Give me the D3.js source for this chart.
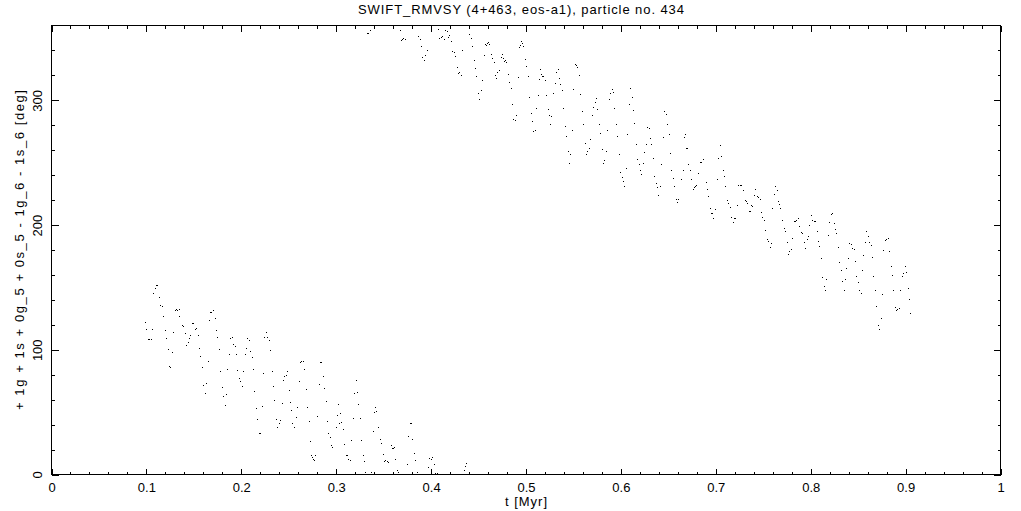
<!DOCTYPE html>
<html>
<head>
<meta charset="utf-8">
<script src="https://cdn.jsdelivr.net/npm/d3@7"></script>
<style>
  html, body { margin: 0; padding: 0; background: #fff; }
  svg { display: block; }
  text { font-family: "Liberation Sans", Arial, sans-serif; fill: #000; }
</style>
</head>
<body>
<svg id="chart" width="1021" height="511"></svg>
<script>
// ---------------- data ----------------
const chartTitle = "SWIFT_RMVSY (4+463, eos-a1), particle no. 434";
const xAxisLabel = "t [Myr]";
const yAxisLabel = "+ 1g + 1s + 0g_5 + 0s_5 - 1g_6 - 1s_6 [deg]";

const xMajorTicks = [0, 0.1, 0.2, 0.3, 0.4, 0.5, 0.6, 0.7, 0.8, 0.9, 1];
const xTickLabels = ["0", "0.1", "0.2", "0.3", "0.4", "0.5", "0.6", "0.7", "0.8", "0.9", "1"];
const yMajorTicks = [0, 100, 200, 300];
const yTickLabels = ["0", "100", "200", "300"];

// branch below the 0/360 wrap (t in Myr, angle in deg)
const tLower = [
0.0994,0.1004,0.1029,0.1040,0.1054,0.1068,0.1078,0.1096,0.1110,0.1127,0.1142,0.1159,0.1170,0.1184,0.1205,0.1215,0.1236,0.1247,0.1264,0.1279,
0.1289,0.1310,0.1321,0.1338,0.1349,0.1359,0.1384,0.1395,0.1416,0.1426,0.1447,0.1458,0.1468,0.1489,0.1500,0.1521,0.1532,0.1553,0.1563,0.1574,
0.1595,0.1605,0.1626,0.1637,0.1658,0.1668,0.1679,0.1690,0.1711,0.1732,0.1742,0.1753,0.1774,0.1784,0.1805,0.1816,0.1837,0.1848,0.1858,0.1879,
0.1890,0.1911,0.1921,0.1942,0.1953,0.1963,0.1984,0.1995,0.2016,0.2026,0.2047,0.2058,0.2068,0.2090,0.2100,0.2121,0.2132,0.2142,0.2163,0.2174,
0.2195,0.2206,0.2227,0.2237,0.2248,0.2269,0.2279,0.2300,0.2311,0.2332,0.2342,0.2353,0.2374,0.2385,0.2406,0.2416,0.2437,0.2448,0.2458,0.2479,
0.2490,0.2511,0.2522,0.2532,0.2550,0.2564,0.2585,0.2596,0.2617,0.2627,0.2638,0.2659,0.2669,0.2690,0.2701,0.2722,0.2733,0.2743,0.2754,0.2764,
0.2775,0.2785,0.2806,0.2827,0.2838,0.2848,0.2869,0.2880,0.2901,0.2912,0.2922,0.2943,0.2954,0.2964,0.3006,0.3017,0.3027,0.3038,0.3048,0.3059,
0.3080,0.3091,0.3112,0.3122,0.3133,0.3154,0.3164,0.3185,0.3196,0.3217,0.3228,0.3238,0.3259,0.3270,0.3291,0.3301,0.3312,0.3375,0.3396,0.3407,
0.3417,0.3428,0.3449,0.3470,0.3480,0.3502,0.3512,0.3523,0.3544,0.3554,0.3586,0.3596,0.3607,0.3617,0.3628,0.3649,0.3660,0.3754,0.3765,0.3786,
0.3797,0.3807,0.3828,0.3839,0.3860,0.3976,0.3986,0.4007,0.4018,0.4039,0.4050,0.4071,0.4355,0.4366,0.4376
];
const phiLower = [
121.6,116.0,108.0,107.5,108.0,116.0,144.9,148.9,150.8,150.8,141.7,135.3,133.9,126.4,115.2,108.8,100.0,86.1,85.6,97.6,
113.6,131.2,132.0,130.7,132.0,126.4,119.2,118.4,112.8,103.2,105.6,108.8,111.2,120.8,120.8,116.0,116.8,111.2,100.8,94.3,
85.6,71.1,64.7,72.7,90.3,123.2,129.6,129.6,131.2,124.8,115.2,109.6,100.0,82.3,69.5,62.3,55.0,63.9,83.9,96.0,
108.8,109.6,104.0,102.4,96.0,83.1,76.7,74.3,70.3,82.3,96.0,100.8,108.8,107.2,98.4,93.5,83.9,66.3,52.6,43.8,
32.6,32.6,54.2,80.7,109.6,113.6,109.6,107.2,99.2,82.3,70.3,59.1,43.8,37.4,40.6,43.0,56.6,75.1,78.3,79.1,
82.3,67.1,57.5,51.1,40.6,37.4,45.5,53.5,74.3,89.5,90.3,90.3,83.9,67.9,53.5,42.2,26.2,15.0,13.4,11.8,
11.0,15.0,46.3,71.9,89.5,89.5,78.3,68.7,58.3,42.2,32.6,29.4,23.0,21.4,37.4,47.1,55.9,40.6,48.7,41.4,
35.8,23.8,15.0,15.0,11.8,11.0,27.0,44.7,64.7,75.1,65.5,55.9,44.7,27.0,15.0,10.2,1.3,1.3,34.2,49.5,
53.5,50.3,37.4,27.8,24.6,15.8,10.2,11.0,10.2,9.4,23.0,20.6,20.6,21.4,11.8,2.9,1.3,7.8,30.2,40.6,
40.6,27.8,16.6,11.0,1.3,5.3,12.6,11.8,13.4,7.8,0.5,0.5,2.9,6.1,8.6
];

// branch above the wrap
const tUpper = [
0.3333,0.3344,0.3365,0.3681,0.3691,0.3702,0.3712,0.3733,0.3871,0.3892,0.3902,0.3913,0.3934,0.3944,0.3965,0.4081,0.4092,0.4113,0.4123,0.4144,
0.4155,0.4176,0.4187,0.4197,0.4218,0.4229,0.4250,0.4260,0.4281,0.4292,0.4302,0.4324,0.4334,0.4408,0.4429,0.4439,0.4461,0.4471,0.4482,0.4503,
0.4513,0.4534,0.4545,0.4566,0.4576,0.4587,0.4597,0.4608,0.4619,0.4640,0.4650,0.4671,0.4682,0.4692,0.4703,0.4724,0.4745,0.4756,0.4766,0.4777,
0.4787,0.4798,0.4819,0.4829,0.4850,0.4861,0.4871,0.4893,0.4903,0.4924,0.4935,0.4945,0.4956,0.4966,0.4977,0.4998,0.5008,0.5029,0.5040,0.5061,
0.5072,0.5082,0.5103,0.5114,0.5135,0.5145,0.5156,0.5166,0.5177,0.5188,0.5209,0.5219,0.5240,0.5251,0.5261,0.5272,0.5293,0.5314,0.5325,0.5346,
0.5356,0.5367,0.5388,0.5398,0.5419,0.5430,0.5451,0.5462,0.5472,0.5493,0.5504,0.5525,0.5535,0.5546,0.5567,0.5577,0.5599,0.5609,0.5630,0.5641,
0.5651,0.5672,0.5683,0.5704,0.5714,0.5736,0.5746,0.5757,0.5778,0.5788,0.5809,0.5820,0.5830,0.5851,0.5862,0.5883,0.5894,0.5915,0.5925,0.5936,
0.5957,0.5967,0.5988,0.5999,0.6020,0.6031,0.6041,0.6062,0.6073,0.6094,0.6104,0.6125,0.6136,0.6146,0.6167,0.6178,0.6199,0.6210,0.6220,0.6241,
0.6252,0.6273,0.6283,0.6304,0.6315,0.6326,0.6347,0.6357,0.6378,0.6389,0.6399,0.6420,0.6431,0.6452,0.6463,0.6484,0.6494,0.6515,0.6526,0.6536,
0.6557,0.6568,0.6589,0.6600,0.6610,0.6642,0.6663,0.6673,0.6684,0.6695,0.6705,0.6716,0.6737,0.6747,0.6768,0.6779,0.6789,0.6800,0.6821,0.6842,
0.6853,0.6874,0.6905,0.6916,0.6926,0.6947,0.6958,0.6968,0.6979,0.7000,0.7021,0.7032,0.7053,0.7063,0.7084,0.7095,0.7105,0.7126,0.7137,0.7158,
0.7169,0.7190,0.7200,0.7211,0.7232,0.7242,0.7263,0.7274,0.7295,0.7316,0.7327,0.7337,0.7358,0.7369,0.7379,0.7390,0.7411,0.7421,0.7442,0.7453,
0.7474,0.7485,0.7495,0.7516,0.7527,0.7548,0.7558,0.7580,0.7590,0.7601,0.7622,0.7632,0.7653,0.7664,0.7674,0.7685,0.7706,0.7727,0.7738,0.7759,
0.7769,0.7780,0.7801,0.7811,0.7832,0.7843,0.7854,0.7875,0.7885,0.7906,0.7917,0.7938,0.7948,0.7969,0.7980,0.7990,0.8011,0.8022,0.8043,0.8054,
0.8075,0.8085,0.8096,0.8117,0.8127,0.8149,0.8159,0.8170,0.8191,0.8201,0.8222,0.8233,0.8254,0.8264,0.8275,0.8296,0.8307,0.8328,0.8338,0.8359,
0.8370,0.8380,0.8401,0.8412,0.8433,0.8444,0.8465,0.8475,0.8486,0.8507,0.8517,0.8538,0.8549,0.8560,0.8581,0.8591,0.8612,0.8623,0.8644,0.8654,
0.8665,0.8686,0.8697,0.8718,0.8728,0.8749,0.8760,0.8770,0.8791,0.8802,0.8823,0.8833,0.8855,0.8865,0.8876,0.8897,0.8907,0.8918,0.8939,0.8949,
0.8971,0.8981,0.9002,0.9013,0.9034,0.9044,0.9055
];
const phiUpper = [
353.5,353.5,355.9,355.9,347.9,348.7,349.5,348.7,351.1,348.7,343.0,334.2,331.8,335.8,339.8,356.7,349.5,350.3,351.1,348.7,
355.9,355.1,350.3,351.9,347.1,339.0,338.2,335.0,326.2,321.4,322.2,319.8,339.8,352.7,349.5,343.0,331.8,325.4,319.0,305.3,
300.5,307.7,315.8,335.8,344.6,343.8,345.4,346.2,344.6,336.6,333.4,330.2,319.8,317.4,322.2,323.8,334.2,336.6,333.4,331.0,
331.8,330.2,320.6,314.2,309.4,296.5,284.5,283.7,287.7,318.2,342.2,343.8,347.1,345.4,343.0,332.6,327.0,319.0,302.1,289.3,
282.9,274.9,275.7,293.3,303.7,316.6,324.6,320.6,319.0,319.0,315.8,303.7,292.5,287.7,280.5,286.9,305.3,313.4,322.2,324.6,
317.4,312.6,307.7,293.3,278.9,270.8,258.8,249.2,256.4,275.7,308.5,328.6,327.3,326.2,319.8,304.5,290.9,280.5,265.2,256.4,
258.8,261.2,268.4,287.7,294.1,297.9,301.3,292.5,280.5,273.3,260.4,249.2,251.6,258.8,275.7,300.5,305.3,308.5,306.1,293.3,
280.5,270.9,256.4,242.0,238.0,234.8,230.7,245.2,272.5,296.5,309.4,302.1,291.7,281.3,264.4,252.4,248.4,243.6,240.4,249.2,
258.0,264.4,278.1,277.3,269.2,264.4,253.2,238.8,233.1,229.9,223.5,230.7,248.4,270.0,290.9,288.5,280.5,272.5,257.2,243.6,
237.2,230.7,220.3,217.9,220.3,236.4,243.6,270.0,272.5,261.2,261.2,248.4,243.6,236.4,228.3,229.9,230.7,231.5,241.2,250.0,
250.0,252.4,234.0,228.3,222.7,213.1,209.1,209.1,205.1,212.3,236.4,253.2,263.6,254.5,243.6,238.8,230.7,219.5,217.1,213.9,
205.9,201.9,205.1,205.1,215.5,231.5,231.5,231.5,227.5,219.5,218.7,217.1,210.7,210.7,215.5,214.7,223.5,228.3,222.7,221.9,
219.8,209.9,205.9,203.5,195.4,188.2,186.6,181.8,185.0,213.1,223.8,230.2,227.0,218.7,216.3,213.1,203.5,197.0,194.6,185.8,
176.2,178.6,180.2,189.0,202.7,202.7,203.5,205.1,198.7,193.8,193.0,185.8,181.0,188.2,190.6,199.5,207.5,203.5,202.7,202.7,
194.6,186.6,182.6,173.0,157.7,150.5,147.3,156.1,191.4,201.9,208.3,209.1,201.1,196.2,193.0,181.8,169.8,163.4,154.5,147.3,
156.1,165.0,173.0,185.0,184.2,181.0,180.2,170.6,158.5,153.7,147.3,144.9,163.4,175.4,185.8,194.6,190.6,185.8,183.4,173.8,
158.5,147.3,134.5,119.2,116.0,124.8,144.1,179.4,187.4,188.2,189.0,178.6,166.6,159.3,147.3,133.7,131.3,132.1,132.9,147.3,
158.5,160.9,166.6,161.8,148.9,140.1,128.9
];

// ---------------- drawing ----------------
const svg = d3.select("#chart");
const W = 1021, H = 511;
const plot = { left: 51, right: 1000, top: 25, bottom: 474 };

const x = d3.scaleLinear().domain([0, 1]).range([plot.left, plot.right]);
const y = d3.scaleLinear().domain([0, 360]).range([plot.bottom, plot.top]);
// half-pixel shifted scales for crisp 1px lines
const xl = d3.scaleLinear().domain([0, 1]).range([plot.left + 0.5, plot.right + 0.5]);
const yl = d3.scaleLinear().domain([0, 360]).range([plot.bottom + 0.5, plot.top + 0.5]);

svg.append("rect").attr("width", W).attr("height", H).attr("fill", "#fff");

const xMinor = d3.range(0, 1.0001, 0.02).map(v => +v.toFixed(2)).filter(v => !xMajorTicks.some(m => Math.abs(m - v) < 1e-9));
const yMinor = d3.range(0, 360.001, 20).filter(v => v % 100 !== 0 && v !== 360);

function styleAxis(g) {
  g.select(".domain").remove();
  g.selectAll("line").attr("stroke", "#000").attr("stroke-width", 1).attr("shape-rendering", "crispEdges");
}

// bottom axis (major with labels, minor without)
svg.append("g").attr("transform", `translate(0,${plot.bottom + 0.5})`)
  .call(d3.axisBottom(xl).tickValues(xMajorTicks).tickSize(-6).tickPadding(8)
    .tickFormat((d, i) => xTickLabels[i]))
  .call(styleAxis)
  .call(g => g.selectAll("text").attr("font-size", 13).attr("font-family", null).attr("dy", "0.71em"));
svg.append("g").attr("transform", `translate(0,${plot.bottom + 0.5})`)
  .call(d3.axisBottom(xl).tickValues(xMinor).tickSize(-3).tickFormat(""))
  .call(styleAxis);

// top axis
svg.append("g").attr("transform", `translate(0,${plot.top + 0.5})`)
  .call(d3.axisTop(xl).tickValues(xMajorTicks).tickSize(-6).tickFormat(""))
  .call(styleAxis);
svg.append("g").attr("transform", `translate(0,${plot.top + 0.5})`)
  .call(d3.axisTop(xl).tickValues(xMinor).tickSize(-3).tickFormat(""))
  .call(styleAxis);

// left axis
svg.append("g").attr("transform", `translate(${plot.left + 0.5},0)`)
  .call(d3.axisLeft(yl).tickValues(yMajorTicks).tickSize(-7)
    .tickFormat((d, i) => yTickLabels[i]))
  .call(styleAxis)
  .call(g => g.selectAll("text")
    .attr("font-size", 13).attr("font-family", null)
    .attr("transform", "rotate(-90)")
    .attr("x", 0).attr("y", -9.5).attr("dy", 0)
    .attr("text-anchor", "middle"));
svg.append("g").attr("transform", `translate(${plot.left + 0.5},0)`)
  .call(d3.axisLeft(yl).tickValues(yMinor).tickSize(-3).tickFormat(""))
  .call(styleAxis);

// right axis
svg.append("g").attr("transform", `translate(${plot.right + 0.5},0)`)
  .call(d3.axisRight(yl).tickValues(yMajorTicks).tickSize(-7).tickFormat(""))
  .call(styleAxis);
svg.append("g").attr("transform", `translate(${plot.right + 0.5},0)`)
  .call(d3.axisRight(yl).tickValues(yMinor).tickSize(-3).tickFormat(""))
  .call(styleAxis);

// frame
svg.append("rect")
  .attr("x", plot.left + 0.5).attr("y", plot.top + 0.5)
  .attr("width", plot.right - plot.left).attr("height", plot.bottom - plot.top)
  .attr("fill", "none").attr("stroke", "#000").attr("stroke-width", 1)
  .attr("shape-rendering", "crispEdges");

// points
const points = tLower.map((t, i) => ({ t, phi: phiLower[i] }))
  .concat(tUpper.map((t, i) => ({ t, phi: phiUpper[i] })));
svg.append("g").selectAll("rect").data(points).join("rect")
  .attr("x", d => Math.floor(x(d.t)))
  .attr("y", d => Math.floor(y(d.phi)))
  .attr("width", 1).attr("height", 1)
  .attr("fill", "#000")
  .attr("shape-rendering", "crispEdges");

// titles
svg.append("text")
  .attr("x", 521).attr("y", 14)
  .attr("text-anchor", "middle").attr("font-size", 13)
  .attr("textLength", 326).attr("lengthAdjust", "spacing")
  .text(chartTitle);
svg.append("text")
  .attr("x", 526).attr("y", 506)
  .attr("text-anchor", "middle").attr("font-size", 13)
  .attr("textLength", 42).attr("lengthAdjust", "spacing")
  .text(xAxisLabel);
svg.append("text")
  .attr("transform", `translate(24,250) rotate(-90)`)
  .attr("text-anchor", "middle").attr("font-size", 13)
  .attr("textLength", 320).attr("lengthAdjust", "spacing")
  .text(yAxisLabel);
</script>
</body>
</html>
